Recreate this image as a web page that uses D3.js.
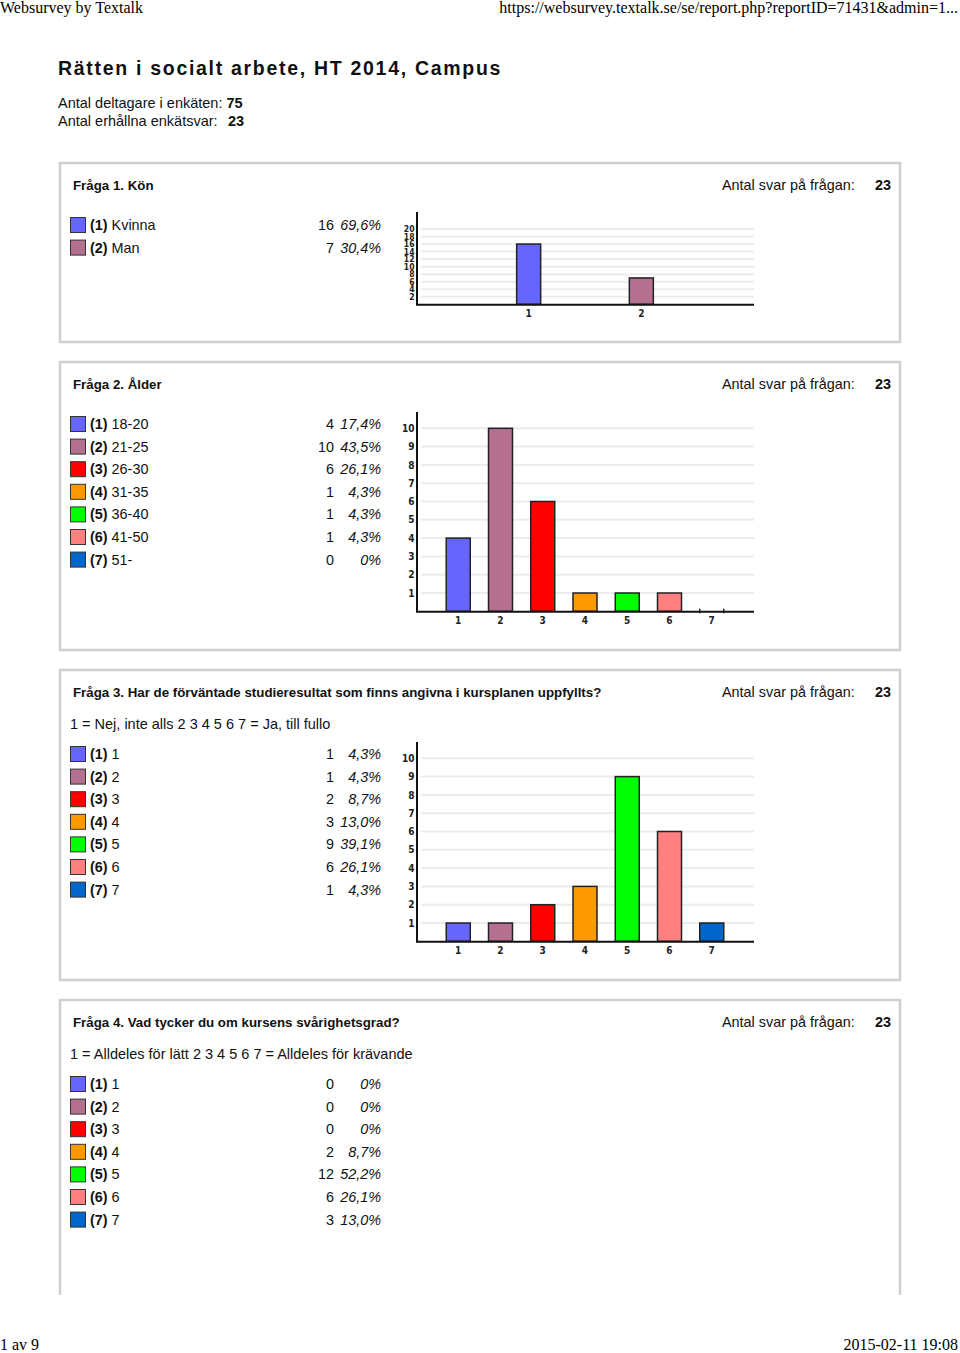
<!DOCTYPE html>
<html>
<head>
<meta charset="utf-8">
<script src="https://cdn.jsdelivr.net/npm/d3@7"></script>
<style>
html,body{margin:0;padding:0;background:#fff;}
svg{display:block;}
text{font-family:"Liberation Sans",Arial,Helvetica,sans-serif;}
</style>
</head>
<body>
<script>
// ---------- data ----------
const colors = ["#6666ff","#b5708f","#ff0000","#ff9900","#00ff00","#ff8080","#0066cc"];

const q1Title = "Fråga 1. Kön";
const q1Labels = ["Kvinna","Man"];
const q1Counts = [16,7];
const q1Pct = ["69,6%","30,4%"];
const q1Ticks = [2,4,6,8,10,12,14,16,18,20];

const q2Title = "Fråga 2. Ålder";
const q2Labels = ["18-20","21-25","26-30","31-35","36-40","41-50","51-"];
const q2Counts = [4,10,6,1,1,1,0];
const q2Pct = ["17,4%","43,5%","26,1%","4,3%","4,3%","4,3%","0%"];
const q2Ticks = [1,2,3,4,5,6,7,8,9,10];

const q3Title = "Fråga 3. Har de förväntade studieresultat som finns angivna i kursplanen uppfyllts?";
const q3Scale = "1 = Nej, inte alls 2 3 4 5 6 7 = Ja, till fullo";
const q3Labels = ["1","2","3","4","5","6","7"];
const q3Counts = [1,1,2,3,9,6,1];
const q3Pct = ["4,3%","4,3%","8,7%","13,0%","39,1%","26,1%","4,3%"];
const q3Ticks = [1,2,3,4,5,6,7,8,9,10];

const q4Title = "Fråga 4. Vad tycker du om kursens svårighetsgrad?";
const q4Scale = "1 = Alldeles för lätt 2 3 4 5 6 7 = Alldeles för krävande";
const q4Labels = ["1","2","3","4","5","6","7"];
const q4Counts = [0,0,0,2,12,6,3];
const q4Pct = ["0%","0%","0%","8,7%","52,2%","26,1%","13,0%"];

const answers = 23;
const participants = 75;

// ---------- drawing ----------
const W = 960, H = 1353;
const svg = d3.select("body").append("svg").attr("width",W).attr("height",H);
svg.append("rect").attr("width",W).attr("height",H).attr("fill","#fff");

const serif = '"Liberation Serif","Times New Roman",serif';
svg.append("text").attr("x",0).attr("y",13).style("font-family",serif).attr("font-size",16).text("Websurvey by Textalk");
svg.append("text").attr("x",958).attr("y",13).attr("text-anchor","end").style("font-family",serif).attr("font-size",16)
  .text("https://websurvey.textalk.se/se/report.php?reportID=71431&admin=1...");
svg.append("text").attr("x",0).attr("y",1350).style("font-family",serif).attr("font-size",16).text("1 av 9");
svg.append("text").attr("x",958).attr("y",1350).attr("text-anchor","end").style("font-family",serif).attr("font-size",16).text("2015-02-11 19:08");

svg.append("text").attr("x",58).attr("y",75).attr("font-size",19.5).attr("font-weight","bold")
  .attr("letter-spacing","1.7px").attr("fill","#111").text("Rätten i socialt arbete, HT 2014, Campus");
const i1 = svg.append("text").attr("x",58).attr("y",108).attr("font-size",14.5).attr("fill","#111");
i1.append("tspan").text("Antal deltagare i enkäten: ");
i1.append("tspan").attr("font-weight","bold").text(participants);
const i2 = svg.append("text").attr("x",58).attr("y",126).attr("font-size",14.5).attr("fill","#111");
i2.append("tspan").text("Antal erhållna enkätsvar:");
i2.append("tspan").attr("font-weight","bold").attr("x",228).text(answers);

function panel(top, bottom, title, scaleText, labels, counts, pcts, chart){
  const g = svg.append("g");
  if (bottom !== null){
    g.append("rect").attr("x",60).attr("y",top).attr("width",840).attr("height",bottom-top)
      .attr("fill","none").attr("stroke","#cfcfcf").attr("stroke-width",2.5);
  } else {
    g.append("path").attr("d",`M60,1295V${top}H900V1295`).attr("fill","none")
      .attr("stroke","#cfcfcf").attr("stroke-width",2.5);
  }
  g.append("text").attr("x",73).attr("y",top+27).attr("font-size",13.3).attr("font-weight","bold").attr("fill","#111").text(title);
  g.append("text").attr("x",722).attr("y",top+27).attr("font-size",14.4).attr("fill","#111").text("Antal svar på frågan:");
  g.append("text").attr("x",891).attr("y",top+27).attr("text-anchor","end").attr("font-size",14.4).attr("font-weight","bold").attr("fill","#111").text(answers);
  let legTop = top + 62;
  if (scaleText){
    g.append("text").attr("x",70).attr("y",top+59).attr("font-size",14.5).attr("fill","#111").text(scaleText);
    legTop = top + 84;
  }
  const step = 22.6;
  labels.forEach((lab,i)=>{
    const cy = legTop + i*step;
    g.append("rect").attr("x",70.5).attr("y",cy-7.5).attr("width",15).attr("height",15)
      .attr("fill",colors[i]).attr("stroke","#333").attr("stroke-width",1);
    const t = g.append("text").attr("x",90).attr("y",cy+5).attr("font-size",14.4).attr("fill","#111");
    t.append("tspan").attr("font-weight","bold").text(`(${i+1})`);
    t.append("tspan").text(" "+lab);
    g.append("text").attr("x",334).attr("y",cy+5).attr("text-anchor","end").attr("font-size",14.4).attr("fill","#111").text(counts[i]);
    g.append("text").attr("x",381).attr("y",cy+5).attr("text-anchor","end").attr("font-size",14.4).attr("font-style","italic").attr("fill","#111").text(pcts[i]);
  });
  if (chart) drawChart(g, chart, labels, counts);
}

function drawChart(g, c, labels, counts){
  const x0 = 416, x1 = 754;
  const x = d3.scalePoint().domain(labels.map((d,i)=>i+1)).range([x0,x1]).padding(1);
  const y = d3.scaleLinear().domain([0,c.max]).range([c.base, c.top]);
  g.selectAll(null).data(c.ticks).enter().append("line")
    .attr("x1",421).attr("x2",x1).attr("y1",d=>y(d)).attr("y2",d=>y(d))
    .attr("stroke","#ececec").attr("stroke-width",2);
  g.selectAll(null).data(c.ticks).enter().append("text")
    .attr("x",414.5).attr("y",d=>y(d)+c.tickSize*0.36).attr("text-anchor","end")
    .attr("font-size",c.tickSize).attr("font-weight","bold").attr("fill","#222")
    .style("font-family",'"Liberation Sans Narrow","DejaVu Sans Condensed","Liberation Sans",sans-serif')
    .text(d=>d);
  const bw = 24;
  labels.forEach((lab,i)=>{
    const cx = x(i+1), v = counts[i];
    if (v > 0){
      g.append("rect").attr("x",cx-bw/2).attr("y",y(v)).attr("width",bw).attr("height",y(0)-y(v))
        .attr("fill",colors[i]).attr("stroke","#222").attr("stroke-width",1.5);
    } else {
      [cx-bw/2, cx+bw/2].forEach(px=>{
        g.append("line").attr("x1",px).attr("x2",px).attr("y1",y(0)-2.5).attr("y2",y(0)+2)
          .attr("stroke","#222").attr("stroke-width",1.5);
      });
    }
    g.append("text").attr("x",cx).attr("y",y(0)+13).attr("text-anchor","middle")
      .attr("font-size",10).attr("font-weight","bold").attr("fill","#222")
      .style("font-family",'"Liberation Sans Narrow","DejaVu Sans Condensed","Liberation Sans",sans-serif')
      .text(i+1);
  });
  g.append("line").attr("x1",417).attr("x2",417).attr("y1",c.axisTop).attr("y2",y(0)+1).attr("stroke","#111").attr("stroke-width",2);
  g.append("line").attr("x1",x0).attr("x2",x1).attr("y1",y(0)+0.5).attr("y2",y(0)+0.5).attr("stroke","#111").attr("stroke-width",2);
}

panel(163, 342, q1Title, null, q1Labels, q1Counts, q1Pct,
  {max:20, base:304.3, top:229, ticks:q1Ticks, axisTop:212, tickSize:8.5});
panel(362, 650, q2Title, null, q2Labels, q2Counts, q2Pct,
  {max:10, base:611.3, top:428.3, ticks:q2Ticks, axisTop:412, tickSize:10});
panel(670, 980, q3Title, q3Scale, q3Labels, q3Counts, q3Pct,
  {max:10, base:941.3, top:758.3, ticks:q3Ticks, axisTop:742, tickSize:10});
panel(1000, null, q4Title, q4Scale, q4Labels, q4Counts, q4Pct, null);
</script>
</body>
</html>
